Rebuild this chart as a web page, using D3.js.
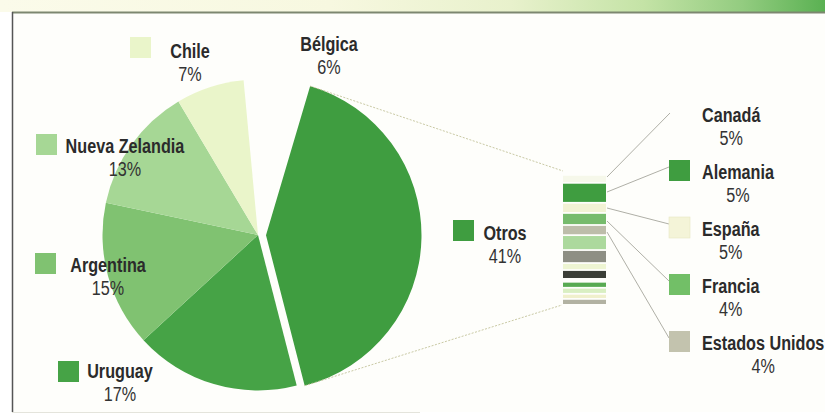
<!DOCTYPE html>
<html><head><meta charset="utf-8">
<script src="https://cdn.jsdelivr.net/npm/d3@7"></script>
<style>
html,body{margin:0;padding:0;background:#fff;}
svg{display:block;}
text{font-family:"Liberation Sans",Arial,Helvetica,sans-serif;}
</style></head><body>
<script>
// ---- data ----
const pieNames  = ["Otros","Uruguay","Argentina","Nueva Zelandia","Chile","Bélgica"];
const pieValues = [41,17,15,13,7,6];
const pieLabels = ["41%","17%","15%","13%","7%","6%"];
const pieColors = ["#3f9d40","#46a346","#80c271","#a6d795","#eaf5ca","none"];

const otrosNames  = ["Canadá","Alemania","España","Francia","Estados Unidos"];
const otrosLabels = ["5%","5%","5%","4%","4%"];
const otrosColors = ["none","#3f9d40","#f4f4d8","#72bf67","#c3c3ae"];

// breakdown stripes of the "Otros" bar, top to bottom (first five are the named ones)
const stripeValues = [2.5,6.3,3.2,3.8,3.2,4.7,4.1,2.2,2.8,0.9,1.9,1.9,1.6,1.9];
const stripeColors = ["#f6f8ea","#3f9d40","#f2f2d4","#76bb6c","#bdbdaa","#acd99d","#8e8f84","#eef5d2","#3b3e37","none","#58aa52","#d9efc2","#f0f0cc","#b2b2a2"];

// ---- layout ----
const W = 825, H = 416;
const svg = d3.select("body").append("svg").attr("width", W).attr("height", H);

// header band gradient
const defs = svg.append("defs");
const g1 = defs.append("linearGradient").attr("id","band").attr("x1","0").attr("x2","1").attr("y1","0").attr("y2","0");
[[0,"#fbfbea"],[0.4,"#f7f8e0"],[0.62,"#e8f1cc"],[0.78,"#c4e3a6"],[0.9,"#93cc80"],[1,"#5ab152"]]
  .forEach(([o,c]) => g1.append("stop").attr("offset", o).attr("stop-color", c));
svg.append("rect").attr("x",0).attr("y",0).attr("width",W).attr("height",12).attr("fill","url(#band)");
svg.append("rect").attr("x",12).attr("y",12).attr("width",W-12).attr("height",400).attr("fill","#fefefb");
svg.append("line").attr("x1",12).attr("x2",W).attr("y1",12.5).attr("y2",12.5).attr("stroke","#7d8770").attr("stroke-width",2);
svg.append("line").attr("x1",12.5).attr("x2",12.5).attr("y1",12).attr("y2",412).attr("stroke","#555").attr("stroke-width",1.5);
svg.append("line").attr("x1",12).attr("x2",420).attr("y1",412.5).attr("y2",412.5).attr("stroke","#e4e4dc").attr("stroke-width",1);

// pie
const cx = 258, cy = 235, R = 155.5, explode = 8;
const a0 = 16.5 * Math.PI / 180;
const pieData = pieNames.map((n,i) => ({name:n, value:pieValues[i], color:pieColors[i]}));
const arcs = d3.pie().sort(null).value(d => d.value).startAngle(a0).endAngle(a0 + 2*Math.PI)(pieData);
const arc = d3.arc().innerRadius(0).outerRadius(R);
const gp = svg.append("g").attr("transform", `translate(${cx},${cy})`);
arcs.forEach((d,i) => {
  let dx = 0, dy = 0;
  if (i === 0) { const m = (d.startAngle + d.endAngle)/2; dx = Math.sin(m)*explode; dy = -Math.cos(m)*explode; }
  d.dx = dx; d.dy = dy;
});
gp.selectAll("path").data(arcs).join("path")
  .attr("d", arc)
  .attr("transform", d => `translate(${d.dx},${d.dy})`)
  .attr("fill", d => d.data.color);

// Otros stacked bar
const barX = 563, barW = 43;
const total = d3.sum(stripeValues);
const y = d3.scaleLinear().domain([0,total]).range([175,305]);
let acc = 0;
const stripes = stripeValues.map((v,i) => { const s = {v, c: stripeColors[i], y0: acc, y1: acc+v, name: otrosNames[i]}; acc += v; return s; });
svg.append("g").selectAll("rect").data(stripes.filter(s => s.c !== "none")).join("rect")
  .attr("x", barX).attr("width", barW)
  .attr("y", s => y(s.y0) + 0.8)
  .attr("height", s => Math.max(1, y(s.y1) - y(s.y0) - 1.8))
  .attr("fill", s => s.c);

// connector lines from the exploded slice to the bar
const ot = arcs[0];
const pStart = [cx + ot.dx + Math.sin(ot.startAngle)*R, cy + ot.dy - Math.cos(ot.startAngle)*R];
const pEnd   = [cx + ot.dx + Math.sin(ot.endAngle)*R,   cy + ot.dy - Math.cos(ot.endAngle)*R];
svg.append("line").attr("x1",pStart[0]).attr("y1",pStart[1]).attr("x2",barX).attr("y2",y(0)-4)
  .attr("stroke","#c9c9a4").attr("stroke-width",1).attr("stroke-dasharray","2,1.5");
svg.append("line").attr("x1",pEnd[0]).attr("y1",pEnd[1]).attr("x2",barX-1).attr("y2",y(total))
  .attr("stroke","#c9c9a4").attr("stroke-width",1).attr("stroke-dasharray","2,1.5");

// text helpers (condensed look: horizontal compression of a normal sans)
const FS = 20, SX = 0.81;
function txt(g, x, yb, s, anchor, weight, color) {
  return g.append("text").attr("transform", `translate(${x},${yb}) scale(${SX},1)`)
    .attr("text-anchor", anchor).attr("font-size", FS).attr("font-weight", weight)
    .attr("fill", color).text(s);
}
function label(g, x, yb, name, pct, anchor) {
  const t1 = txt(g, x, yb, name, anchor, "bold", "#2b2b2b");
  let pcx = x;
  if (anchor === "start") pcx = x + t1.node().getComputedTextLength()*SX/2;
  txt(g, pcx, yb + 23, pct, "middle", "normal", "#333");
}
function box(g, x, yt, color, stroke) {
  g.append("rect").attr("x", x).attr("y", yt).attr("width", 21).attr("height", 21)
    .attr("fill", color).attr("stroke", stroke || "none").attr("stroke-width", 0.6);
}
const gl = svg.append("g");

// pie labels
const pieLayout = [
  {cx:505, yb:240, box:[453,220]},
  {cx:120, yb:378, box:[58,361]},
  {cx:108, yb:272, box:[35,253]},
  {cx:125, yb:153, box:[36,134]},
  {cx:190, yb:58,  box:[130,37]},
  {cx:329, yb:51,  box:null}
];
pieNames.forEach((n,i) => {
  const L = pieLayout[i];
  if (L.box) box(gl, L.box[0], L.box[1], pieColors[i] === "none" ? "#fff" : pieColors[i]);
  label(gl, L.cx, L.yb, n, pieLabels[i], "middle");
});

// right legend for the Otros breakdown
const rightLayout = [
  {yb:122, boxY:null, end:[670,113]},
  {yb:179, boxY:160},
  {yb:236, boxY:217},
  {yb:293, boxY:274},
  {yb:350, boxY:331}
];
const leaderStartY = [177, 192, 208, 221, 232];
otrosNames.forEach((n,i) => {
  const L = rightLayout[i];
  const s = stripes[i];
  const sy = Math.min(Math.max(leaderStartY[i], y(s.y0)+1), y(s.y1));
  const end = L.end || [669, L.boxY + 7];
  gl.append("line").attr("x1", barX + barW + 1).attr("y1", sy).attr("x2", end[0]).attr("y2", end[1])
    .attr("stroke", "#9a9a90").attr("stroke-width", 0.8);
  if (L.boxY !== null) box(gl, 669, L.boxY, otrosColors[i], i === 2 ? "#e6e6c4" : null);
  label(gl, 702, L.yb, n, otrosLabels[i], "start");
});
</script>
</body></html>
